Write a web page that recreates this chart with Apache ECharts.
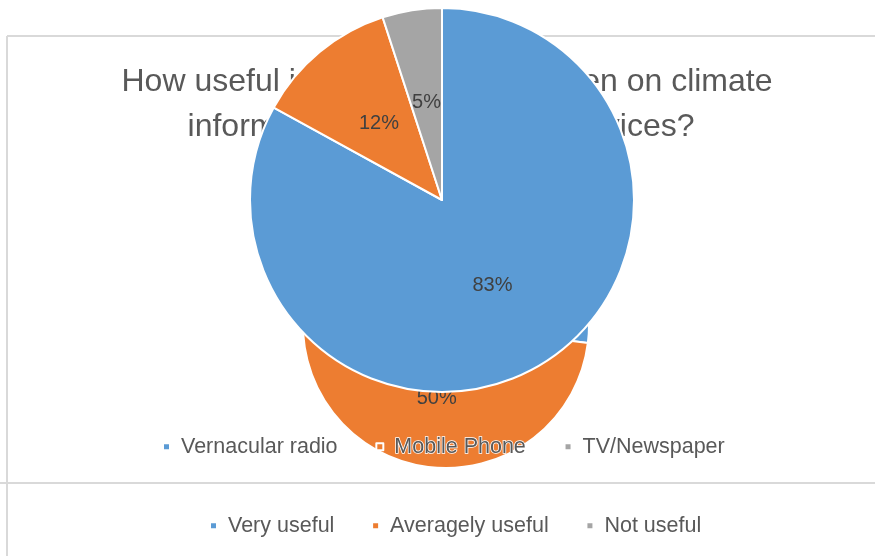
<!DOCTYPE html>
<html>
<head>
<meta charset="utf-8">
<script src="https://cdn.jsdelivr.net/npm/echarts@6/dist/echarts.min.js"></script>
<style>
  html, body { margin: 0; padding: 0; background: #ffffff; }
  #chart { width: 875px; height: 556px; }
</style>
</head>
<body>
<div id="chart"></div>
<script>
// Survey results: preferred channel and perceived usefulness of climate information
const titleLine1 = 'How useful is the information given on climate';
const titleLine2 = 'information through these services?';

const channelNames = ['Vernacular radio', 'Mobile Phone', 'TV/Newspaper'];
const channelShares = [83, 12, 5];

const usefulnessNames = ['Very useful', 'Averagely useful', 'Not useful'];
const usefulnessShares = [27, 50, 23];

const palette = ['#5b9bd5', '#ed7d31', '#a5a5a5'];
const textGrey = '#595959';
const frameGrey = '#d9d9d9';
const fontFamily = 'Liberation Sans, Arial, sans-serif';

const chart = echarts.init(document.getElementById('chart'));

function toItems(names, values) {
  return names.map((n, i) => ({ name: n, value: values[i], itemStyle: { color: palette[i] } }));
}

const sliceLabel = {
  show: true,
  position: 'inside',
  formatter: '{c}%',
  color: '#404040',
  fontSize: 20,
  fontFamily: fontFamily
};

function legendText() {
  return {
    color: textGrey,
    fontSize: 21.5,
    fontFamily: fontFamily,
    padding: [0, 0, 0, 6],
    textBorderColor: '#ffffff',
    textBorderWidth: 1.5
  };
}

function titleText(text, x, y) {
  return {
    type: 'text', z: 0, x: x, y: y,
    style: {
      text: text,
      fontSize: 32,
      fontFamily: fontFamily,
      fill: textGrey,
      align: 'center',
      verticalAlign: 'middle'
    }
  };
}

chart.setOption({
  animation: false,
  backgroundColor: '#ffffff',
  graphic: {
    elements: [
      // chart frame borders
      { type: 'line', z: 0, shape: { x1: 7, y1: 36, x2: 875, y2: 36 }, style: { stroke: frameGrey, lineWidth: 2 } },
      { type: 'line', z: 0, shape: { x1: 7, y1: 36, x2: 7, y2: 556 }, style: { stroke: frameGrey, lineWidth: 2 } },
      { type: 'line', z: 0, shape: { x1: 0, y1: 483, x2: 875, y2: 483 }, style: { stroke: frameGrey, lineWidth: 2 } },
      // chart title, two lines
      titleText(titleLine1, 447, 82),
      titleText(titleLine2, 441, 127)
    ]
  },
  legend: [
    {
      data: channelNames,
      top: 430,
      left: 157,
      icon: 'rect',
      itemWidth: 7,
      itemHeight: 7,
      itemGap: 37,
      z: 4,
      textStyle: legendText()
    },
    {
      data: usefulnessNames,
      top: 509,
      left: 204,
      icon: 'rect',
      itemWidth: 7,
      itemHeight: 7,
      itemGap: 36,
      z: 4,
      textStyle: legendText()
    }
  ],
  series: [
    {
      name: 'Usefulness',
      type: 'pie',
      z: 1,
      center: [446, 325],
      radius: 143,
      startAngle: 90,
      clockwise: true,
      label: sliceLabel,
      labelLine: { show: false },
      itemStyle: { borderColor: '#ffffff', borderWidth: 2 },
      emphasis: { disabled: true },
      data: toItems(usefulnessNames, usefulnessShares)
    },
    {
      name: 'Channel',
      type: 'pie',
      z: 3,
      center: [442, 200],
      radius: 192,
      startAngle: 90,
      clockwise: true,
      label: sliceLabel,
      labelLine: { show: false },
      itemStyle: { borderColor: '#ffffff', borderWidth: 2 },
      emphasis: { disabled: true },
      data: toItems(channelNames, channelShares)
    }
  ]
});
</script>
</body>
</html>
